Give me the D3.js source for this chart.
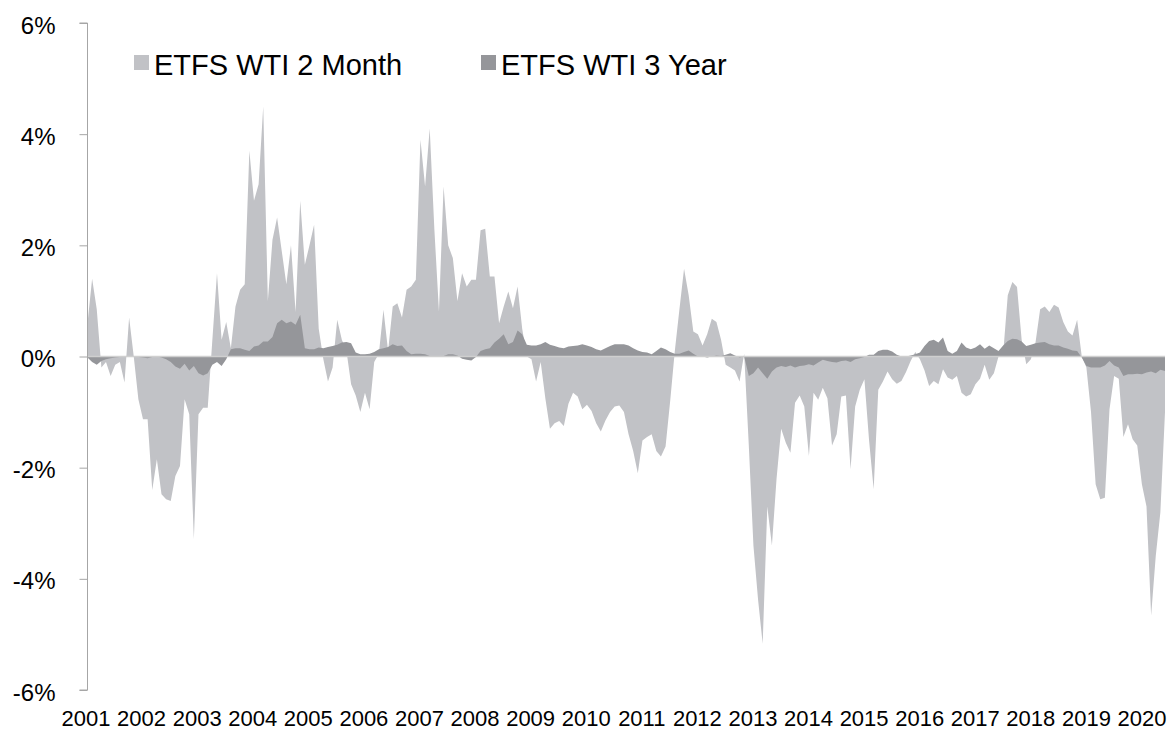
<!DOCTYPE html>
<html>
<head>
<meta charset="utf-8">
<script src="https://cdn.jsdelivr.net/npm/d3@7.9.0/dist/d3.min.js"></script>
<style>
  html, body { margin: 0; padding: 0; background: #fff; }
  svg text { font-family: "Liberation Sans", Arial, sans-serif; fill: #000; }
</style>
</head>
<body>
<svg id="chart" width="1168" height="740"></svg>
<script>
// Monthly values, Jan 2001 onward (percent)
const years = d3.range(2001, 2021);
const yTicks = [-6, -4, -2, 0, 2, 4, 6];
const seriesNames = ['ETFS WTI 2 Month', 'ETFS WTI 3 Year'];

const wti2Month = [
  0.6, 1.4, 0.85, -0.2, -0.1, -0.35, -0.15, -0.1, -0.47, 0.7,
  0.0, -0.77, -1.13, -1.13, -2.4, -1.85, -2.48, -2.57, -2.6, -2.15,
  -1.97, -0.77, -1.04, -3.29, -1.04, -0.92, -0.92, 0.3, 1.5, 0.3,
  0.62, 0.15, 0.9, 1.2, 1.3, 3.7, 2.8, 3.1, 4.5, 1.0,
  2.1, 2.5, 1.9, 1.3, 2.0, 0.8, 2.8, 1.65, 2.0, 2.37,
  0.5, -0.05, -0.45, -0.2, 0.66, 0.3, 0.1, -0.5, -0.7, -1.0,
  -0.65, -0.95, -0.1, 0.05, 0.84, 0.1, 0.9, 0.96, 0.7, 1.2,
  1.26, 1.38, 3.9, 3.06, 4.1, 2.3, 0.81, 3.06, 2.0, 1.77,
  1.0, 1.5, 1.26, 1.38, 1.38, 2.27, 2.3, 1.44, 1.44, 0.6,
  0.9, 1.17, 0.87, 1.26, 0.5, 0.0, -0.05, -0.45, -0.1, -0.75,
  -1.3, -1.2, -1.16, -1.25, -0.85, -0.65, -0.72, -0.95, -0.87, -0.98,
  -1.2, -1.35, -1.15, -1.0, -0.9, -0.88, -1.0, -1.4, -1.7, -2.1,
  -1.51, -1.45, -1.4, -1.7, -1.8, -1.62, -0.8, 0.1, 0.85, 1.58,
  1.1, 0.45, 0.4, 0.2, 0.4, 0.68, 0.62, 0.3, -0.15, -0.2,
  -0.25, -0.45, 0.05, -1.6, -3.4, -4.37, -5.17, -2.7, -3.4, -2.2,
  -1.3, -1.55, -1.73, -0.83, -0.7, -0.9, -1.79, -0.65, -0.78, -0.56,
  -0.75, -1.6, -1.4, -0.72, -0.7, -2.03, -0.9, -0.6, -0.41, -1.5,
  -2.39, -0.6, -0.45, -0.27, -0.41, -0.49, -0.44, -0.28, -0.08, 0.08,
  -0.05, -0.25, -0.53, -0.44, -0.5, -0.23, -0.38, -0.42, -0.35, -0.65,
  -0.72, -0.68, -0.5, -0.4, -0.15, -0.42, -0.3, 0.0, 0.05, 1.1,
  1.34, 1.25, 0.3, -0.14, -0.05, 0.25, 0.85, 0.9, 0.8, 0.93,
  0.88, 0.62, 0.45, 0.38, 0.66, 0.0, -0.2, -1.0, -2.3, -2.57,
  -2.54, -0.95, -0.35, -0.4, -1.45, -1.22, -1.49, -1.6, -2.3, -2.7,
  -4.66, -3.59, -2.8, -1.0
];

const wti3Year = [
  -0.02, -0.1, -0.15, -0.08, -0.05, -0.03, -0.02, -0.01, 0, 0,
  0, -0.01, -0.02, -0.03, -0.01, 0, -0.02, -0.05, -0.1, -0.18,
  -0.22, -0.13, -0.25, -0.17, -0.3, -0.34, -0.3, -0.15, -0.1, -0.17,
  -0.05, 0.13, 0.15, 0.15, 0.12, 0.1, 0.18, 0.2, 0.27, 0.27,
  0.35, 0.6, 0.66, 0.6, 0.63, 0.57, 0.75, 0.15, 0.13, 0.13,
  0.16, 0.15, 0.17, 0.19, 0.21, 0.25, 0.26, 0.24, 0.07, 0.04,
  0.04, 0.05, 0.08, 0.13, 0.15, 0.17, 0.22, 0.19, 0.2, 0.1,
  0.04, 0.05, 0.05, 0.04, 0.01, 0.0, 0.0, 0.01, 0.04, 0.04,
  0.02, -0.04, -0.06, -0.07, -0.01, 0.1, 0.13, 0.15, 0.25, 0.32,
  0.4, 0.22, 0.26, 0.47, 0.4, 0.21, 0.2, 0.2, 0.22, 0.26,
  0.21, 0.19, 0.16, 0.15, 0.18, 0.19, 0.2, 0.22, 0.2, 0.17,
  0.13, 0.11, 0.15, 0.19, 0.22, 0.22, 0.22, 0.2, 0.15, 0.11,
  0.08, 0.07, 0.04, 0.1, 0.16, 0.13, 0.08, 0.05, 0.05, 0.08,
  0.11, 0.05, 0.0, 0.0, -0.02, 0.0, 0.02, 0.01, 0.03, 0.06,
  0.02, -0.02, 0.0, -0.35, -0.3, -0.2, -0.3, -0.4, -0.27, -0.2,
  -0.17, -0.19, -0.16, -0.2, -0.17, -0.16, -0.14, -0.16, -0.11, -0.06,
  -0.08, -0.1, -0.11, -0.08, -0.07, -0.1, -0.05, -0.03, -0.01, 0.03,
  0.03, 0.1, 0.12, 0.12, 0.09, 0.03, 0.0, 0.0, 0.02, 0.04,
  0.07, 0.19, 0.28, 0.3, 0.25, 0.34, 0.1, 0.05, 0.1, 0.25,
  0.16, 0.13, 0.16, 0.22, 0.14, 0.2, 0.15, 0.1, 0.2, 0.28,
  0.32, 0.31, 0.27, 0.19, 0.21, 0.24, 0.25, 0.26, 0.22, 0.2,
  0.2, 0.16, 0.14, 0.11, 0.1, -0.02, -0.17, -0.2, -0.2, -0.2,
  -0.16, -0.08, -0.16, -0.2, -0.35, -0.32, -0.32, -0.31, -0.32, -0.29,
  -0.27, -0.3, -0.24, -0.26
];

const colors = ['#c1c2c6', '#95969a'];

const svg = d3.select('#chart');

// month index -> pixel
const x = d3.scaleLinear().domain([0, wti2Month.length - 1]).range([87.5, 1165]);
const y = d3.scaleLinear().domain([-6, 6]).range([690, 23]);
// year labels sit on their own point scale
const xLabel = d3.scalePoint().domain(years).range([86, 1142]);

const area = d3.area()
  .x((d, i) => x(i))
  .y0(y(0))
  .y1(d => y(d));

[wti2Month, wti3Year].forEach((vals, k) => {
  svg.append('path')
    .attr('d', area(vals))
    .attr('fill', colors[k]);
});

// zero line drawn over the areas
svg.append('line')
  .attr('x1', x(0)).attr('x2', x(wti2Month.length - 1))
  .attr('y1', y(0)).attr('y2', y(0))
  .attr('stroke', '#cfcfcf')
  .attr('stroke-width', 1.5);

// y axis
const yAxis = svg.append('g')
  .attr('transform', 'translate(87.5,0)')
  .call(d3.axisLeft(y).tickValues(yTicks).tickSize(8).tickPadding(24)
    .tickFormat(d => d + '%'));
yAxis.select('.domain').attr('stroke', '#a6a6a6').attr('d', `M-8,${y(6)}H0V${y(-6)}H-8`);
yAxis.selectAll('.tick line').attr('stroke', '#a6a6a6');
yAxis.selectAll('.tick text')
  .style('font-family', '"Liberation Sans", Arial, sans-serif')
  .style('font-size', '24px')
  .attr('dy', '0.42em')
  .attr('fill', '#000');

// x labels
svg.append('g').selectAll('text')
  .data(years)
  .join('text')
  .attr('x', d => xLabel(d))
  .attr('y', 726)
  .attr('text-anchor', 'middle')
  .style('font-size', '22px')
  .text(d => d);

// legend
const legendX = [134, 481];
const legend = svg.append('g').selectAll('g')
  .data(seriesNames)
  .join('g')
  .attr('transform', (d, i) => `translate(${legendX[i]},55)`);
legend.append('rect')
  .attr('width', 15).attr('height', 15)
  .attr('fill', (d, i) => colors[i]);
legend.append('text')
  .attr('x', 20).attr('y', 19.5)
  .style('font-size', '29px')
  .text(d => d);
</script>
</body>
</html>
